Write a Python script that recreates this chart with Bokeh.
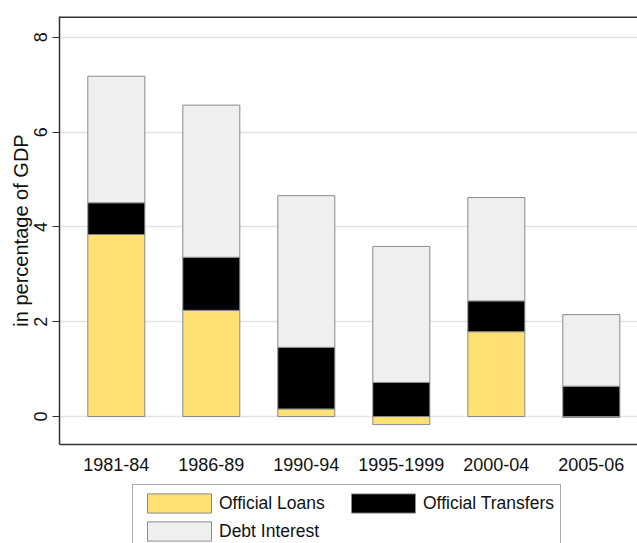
from bokeh.plotting import figure
from bokeh.layouts import column
from bokeh.models import Range1d, FixedTicker, Span, Legend, LegendItem, ColumnDataSource
from bokeh.embed import file_html
from bokeh.resources import INLINE

periods = ["1981-84", "1986-89", "1990-94", "1995-1999", "2000-04", "2005-06"]
official_loans = [3.84, 2.24, 0.16, -0.17, 1.79, -0.02]
official_transfers = [0.67, 1.12, 1.30, 0.72, 0.65, 0.64]
debt_interest = [2.67, 3.21, 3.20, 2.87, 2.18, 1.51]
y_ticks = [0, 2, 4, 6, 8]
series_names = ["Official Loans", "Official Transfers", "Debt Interest"]
series_colors = ["#FFE073", "#000000", "#EFEFEF"]

x = list(range(len(periods)))
loan_top = official_loans
tr_bottom = [max(v, 0) for v in official_loans]
tr_top = [b + t for b, t in zip(tr_bottom, official_transfers)]
di_top = [b + d for b, d in zip(tr_top, debt_interest)]

src = ColumnDataSource(dict(x=x, loan_top=loan_top, tr_bottom=tr_bottom,
                            tr_top=tr_top, di_top=di_top))

FONT = "Liberation Sans"
TXT = "#111111"
LBL = "18px"
p = figure(width=637, height=484, output_backend="svg", toolbar_location=None,
           x_range=Range1d(-0.598, 5.486), y_range=Range1d(-0.59, 8.44),
           min_border_left=59, min_border_right=0, min_border_top=16, min_border_bottom=40)
p.outline_line_color = None
p.background_fill_color = "white"
p.border_fill_color = "white"

bw = 0.6
lc = "#8a8a8a"
p.vbar(x="x", bottom=0, top="loan_top", width=bw, source=src,
       fill_color=series_colors[0], line_color=lc, line_width=1)
p.vbar(x="x", bottom="tr_bottom", top="tr_top", width=bw, source=src,
       fill_color=series_colors[1], line_color=lc, line_width=1)
p.vbar(x="x", bottom="tr_top", top="di_top", width=bw, source=src,
       fill_color=series_colors[2], line_color=lc, line_width=1)

# top frame line
p.add_layout(Span(location=8.44, dimension="width", line_color="#333333", line_width=3))

# axes
p.xaxis.ticker = FixedTicker(ticks=x)
p.xaxis.major_label_overrides = {i: s for i, s in zip(x, periods)}
p.xaxis.major_tick_out = 0
p.xaxis.major_tick_in = 0
p.xaxis.minor_tick_out = 0
p.xaxis.minor_tick_in = 0
p.xaxis.major_label_standoff = 13
p.xaxis.major_label_text_font = FONT
p.xaxis.major_label_text_font_size = LBL
p.xaxis.major_label_text_color = TXT
p.xaxis.axis_line_color = "#333333"
p.xaxis.axis_line_width = 1.5

p.yaxis.ticker = FixedTicker(ticks=y_ticks)
p.yaxis.major_label_orientation = "vertical"
p.yaxis.major_tick_out = 7
p.yaxis.major_tick_in = 0
p.yaxis.minor_tick_out = 0
p.yaxis.minor_tick_in = 0
p.yaxis.major_tick_line_color = "#333333"
p.yaxis.major_label_standoff = 5
p.yaxis.major_label_text_font = FONT
p.yaxis.major_label_text_font_size = LBL
p.yaxis.major_label_text_color = TXT
p.yaxis.axis_line_color = "#333333"
p.yaxis.axis_line_width = 1.5
p.yaxis.axis_label = "in percentage of GDP"
p.yaxis.axis_label_text_font = FONT
p.yaxis.axis_label_text_font_size = "20px"
p.yaxis.axis_label_text_font_style = "normal"
p.yaxis.axis_label_text_color = TXT
p.yaxis.axis_label_standoff = 0

p.xgrid.grid_line_color = None
p.ygrid.grid_line_color = "#E3E3E3"
p.ygrid.grid_line_width = 1.5

# legend panel below the chart (swatch renderers sit outside the visible range)
pl = figure(width=637, height=59, output_backend="svg", toolbar_location=None,
            x_range=Range1d(0, 1), y_range=Range1d(0, 1),
            x_axis_type=None, y_axis_type=None,
            min_border_left=0, min_border_right=0, min_border_top=0, min_border_bottom=0)
pl.outline_line_color = None
pl.xgrid.visible = False
pl.ygrid.visible = False
items = []
for name, col in zip(series_names, series_colors):
    r = pl.vbar(x=[-10], bottom=[-10], top=[-9], width=0.5,
                fill_color=col, line_color=lc, line_width=1)
    items.append(LegendItem(label=name, renderers=[r]))

legend = Legend(items=items,
                location=(73, -7), orientation="horizontal", ncols=2,
                glyph_width=80, glyph_height=24, label_standoff=0,
                label_width=120, label_height=24, spacing=4, padding=6, margin=0,
                label_text_font=FONT, label_text_font_size="17.5px",
                label_text_color=TXT,
                border_line_color="#555555", border_line_width=1,
                background_fill_color="white", background_fill_alpha=1.0)
pl.add_layout(legend, "center")

layout = column(p, pl, spacing=0)
open("out.html", "w").write(file_html(layout, INLINE))
